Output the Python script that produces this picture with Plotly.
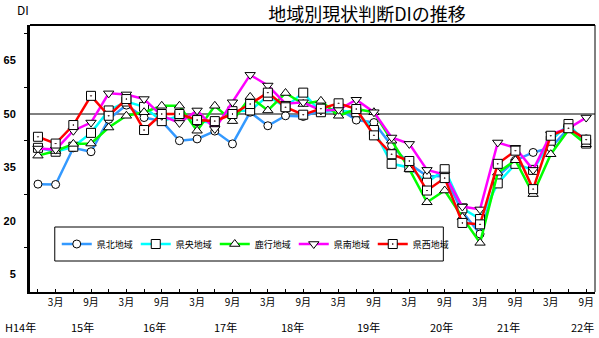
import plotly.graph_objects as go

# Quarterly survey points: H14.12 ... H22.9
quarters = ["H14.12",
            "H15.3", "H15.6", "H15.9", "H15.12",
            "H16.3", "H16.6", "H16.9", "H16.12",
            "H17.3", "H17.6", "H17.9", "H17.12",
            "H18.3", "H18.6", "H18.9", "H18.12",
            "H19.3", "H19.6", "H19.9", "H19.12",
            "H20.3", "H20.6", "H20.9", "H20.12",
            "H21.3", "H21.6", "H21.9", "H21.12",
            "H22.3", "H22.6", "H22.9"]

month_labels = ["", "3月", "", "9月", "",
                "3月", "", "9月", "",
                "3月", "", "9月", "",
                "3月", "", "9月", "",
                "3月", "", "9月", "",
                "3月", "", "9月", "",
                "3月", "", "9月", "",
                "3月", "", "9月"]

year_labels = ["H14年", "15年", "16年", "17年", "18年", "19年", "20年", "21年", "22年"]
year_label_pos = [-1.0, 2.5, 6.6, 10.6, 14.4, 18.7, 22.8, 26.6, 30.8]

series_names = ["県北地域", "県央地域", "鹿行地域", "県南地域", "県西地域"]

kenpoku = [30.3, 30.2, 40.5, 39.4, 48.5, 52.5, 49.0, 48.0, 42.5, 43.0, 45.2, 41.6,
           50.5, 46.7, 49.5, 49.3, 51.0, 51.5, 48.3, 47.6, 41.1, 36.0, 32.6, 32.5,
           22.5, 16.3, 32.5, 37.0, 39.2, 40.5, 46.0, 43.0]
kenou = [40.5, 39.4, 40.8, 44.7, 51.0, 53.5, 52.0, 48.0, 49.5, 48.0, 47.5, 50.8,
         51.0, 55.0, 52.0, 56.0, 50.5, 51.0, 50.5, 45.5, 36.0, 35.0, 30.7, 34.5,
         23.5, 20.5, 30.5, 36.0, 34.3, 42.5, 47.2, 41.7]
rokkou = [38.3, 39.6, 41.6, 41.7, 46.2, 49.5, 50.5, 52.3, 52.3, 45.3, 52.3, 48.0,
          54.8, 51.0, 55.9, 52.8, 53.7, 49.5, 51.4, 50.5, 42.5, 34.5, 25.2, 28.5,
          21.0, 13.8, 33.5, 37.0, 27.5, 38.7, 45.5, 41.5]
kennan = [40.3, 40.0, 45.3, 47.6, 55.8, 55.5, 54.2, 49.5, 47.5, 51.0, 45.8, 53.3,
          61.0, 58.0, 52.9, 53.3, 51.0, 51.2, 54.0, 50.5, 43.4, 41.6, 34.3, 33.0,
          24.0, 23.2, 42.0, 40.5, 34.3, 44.3, 46.0, 49.0]
kensei = [43.6, 41.7, 46.9, 55.1, 49.5, 54.2, 45.5, 50.0, 50.0, 48.3, 48.0, 50.0,
          52.8, 56.0, 51.9, 49.8, 51.5, 53.0, 51.4, 44.0, 38.7, 36.8, 28.5, 32.0,
          19.4, 19.0, 36.0, 39.7, 28.9, 43.9, 46.0, 42.8]

y_tick_vals = [5, 20, 35, 50, 65]
y_minor_vals = [12.5, 27.5, 42.5, 57.5, 72.5]

all_values = [kenpoku, kenou, rokkou, kennan, kensei]
colors = ["#3399FF", "#00FFFF", "#00FF00", "#FF00FF", "#FF0000"]
symbols = ["circle", "square", "triangle-up", "triangle-down", "square-dot"]
sizes = [8, 9, 9, 9, 9]

FONT = "Noto Sans CJK JP"
x_idx = list(range(len(quarters)))
X_RANGE = [-0.45, 31.5]

fig = go.Figure()
for name, vals, c, s, sz in zip(series_names, all_values, colors, symbols, sizes):
    fig.add_trace(go.Scatter(
        x=x_idx, y=vals, name=name, mode="lines+markers",
        line=dict(color=c, width=2.5),
        marker=dict(symbol=s, size=sz, color="white",
                    line=dict(color="black", width=1)),
        customdata=quarters,
    ))

# legend box
fig.add_shape(type="rect", xref="paper", yref="paper",
              x0=(50 - 25) / 570, x1=(442 - 25) / 570,
              y0=(292 - 261) / 267, y1=(292 - 227) / 267,
              line=dict(color="black", width=1), fillcolor="white", layer="below")
# reference line at 50
fig.add_shape(type="line", xref="paper", yref="y", x0=0, x1=1, y0=50, y1=50,
              line=dict(color="black", width=1), layer="below")
# top and right border
fig.add_shape(type="line", xref="paper", yref="paper", x0=0, x1=1, y0=1, y1=1,
              line=dict(color="black", width=2))
fig.add_shape(type="line", xref="paper", yref="paper", x0=1, x1=1, y0=0, y1=1,
              line=dict(color="black", width=1))

span = X_RANGE[1] - X_RANGE[0]
for lab, pos in zip(year_labels, year_label_pos):
    fig.add_annotation(x=(pos - X_RANGE[0]) / span, y=-0.131, xref="paper", yref="paper",
                       text=lab, showarrow=False,
                       font=dict(family=FONT, size=11, color="black"),
                       xanchor="center", yanchor="middle")

fig.add_annotation(x=(10 - 25) / 570, y=(292 - 9) / 267, xref="paper", yref="paper",
                   text="DI", showarrow=False, xanchor="left", yanchor="middle",
                   font=dict(family=FONT, size=12, color="black"))

fig.update_layout(
    width=599, height=338,
    margin=dict(l=25, r=4, t=25, b=46),
    paper_bgcolor="white", plot_bgcolor="white",
    title=dict(text="地域別現状判断DIの推移", x=367 / 599, xanchor="center",
               y=1 - 15 / 338, yanchor="middle",
               font=dict(family=FONT, size=18, color="black")),
    showlegend=True,
    legend=dict(orientation="h", x=(52 - 25) / 570, y=(292 - 244) / 267,
                xanchor="left", yanchor="middle", bgcolor="rgba(0,0,0,0)",
                font=dict(family=FONT, size=9, color="black"),
                itemwidth=30, tracegroupgap=0,
                entrywidth=34, entrywidthmode="pixels"),
    xaxis=dict(range=X_RANGE, tickmode="array", tickvals=x_idx,
               ticktext=month_labels, ticks="inside", ticklen=3, tickwidth=1,
               tickcolor="black", showline=True, linecolor="black", linewidth=2,
               showgrid=False, zeroline=False,
               tickfont=dict(family=FONT, size=10, color="black")),
    yaxis=dict(range=[0, 75], tickmode="array", tickvals=y_tick_vals,
               ticks="outside", ticklen=9, tickcolor="rgba(0,0,0,0)",
               showline=True, linecolor="black", linewidth=3,
               showgrid=False, zeroline=False,
               minor=dict(tickmode="array", tickvals=y_minor_vals, ticks="outside",
                          ticklen=3, tickcolor="black", tickwidth=1, showgrid=False),
               tickfont=dict(family="Liberation Sans", size=11, color="black", weight="bold")),
)

fig.write_html("out.html")
